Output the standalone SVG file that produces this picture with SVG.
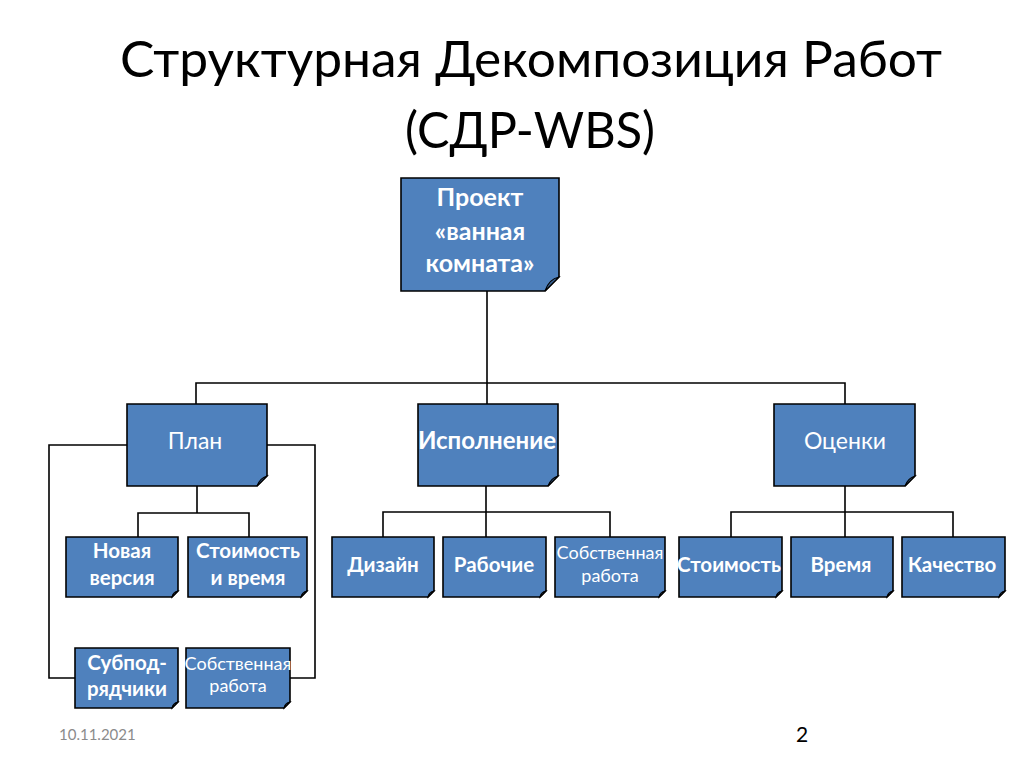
<svg xmlns="http://www.w3.org/2000/svg" width="1024" height="767" viewBox="0 0 1024 767">
<style>
.box{fill:#4F81BD;stroke:#000;stroke-width:1.6;stroke-linejoin:miter}
.fold{fill:#3A6496;stroke:#000;stroke-width:1.2}
.conn{fill:none;stroke:#000;stroke-width:1.6}
.t{font-family:Lato,"Open Sans",sans-serif;fill:#fff;text-anchor:middle}
.b{font-weight:bold}
.s{font-size:20.5px}
.r{font-size:18px}
.title{font-family:Lato,"Open Sans",sans-serif;fill:#000;text-anchor:middle;font-size:50px}
</style>
<rect width="1024" height="767" fill="#fff"/>
<g id="title">
<text class="title" x="531" y="77" textLength="822" lengthAdjust="spacingAndGlyphs">Структурная Декомпозиция Работ</text>
<text class="title" x="530" y="148" textLength="250" lengthAdjust="spacingAndGlyphs">(СДР-WBS)</text>
</g>
<g id="connectors">
<path class="conn" d="M487,291V383M196,404V383H845V404M487,383V404"/>
<path class="conn" d="M197,486V513M138,537V513H249V537"/>
<path class="conn" d="M127,445H49V678H75M267,445H315V678H290"/>
<path class="conn" d="M486,486V537M383,537V512H610V537"/>
<path class="conn" d="M845,486V537M731,537V512H953V537"/>
</g>
<g id="n-project">
<path class="box" d="M401,178H559V277L545,291H401Z"/>
<path class="fold" d="M545,291L559,277Q549,279 545,291Z"/>
<text class="t b" font-size="25" x="480" y="206">Проект</text>
<text class="t b" font-size="25" x="480" y="240">«ванная</text>
<text class="t b" font-size="25" x="480" y="272">комната»</text>
</g>
<g id="n-plan">
<path class="box" d="M127,404H267V476L257,486H127Z"/>
<path class="fold" d="M257,486L267,476Q260,478 257,486Z"/>
<text class="t" font-size="23" x="195" y="449">План</text>
</g>
<g id="n-exec">
<path class="box" d="M418,404H558V476L548,486H418Z"/>
<path class="fold" d="M548,486L558,476Q551,478 548,486Z"/>
<text class="t b" font-size="24" x="487" y="449">Исполнение</text>
</g>
<g id="n-eval">
<path class="box" d="M774,404H915V476L905,486H774Z"/>
<path class="fold" d="M905,486L915,476Q908,478 905,486Z"/>
<text class="t" font-size="23" x="845" y="449">Оценки</text>
</g>
<g id="n-newver">
<path class="box" d="M66,537H178V591L172,597H66Z"/>
<path class="fold" d="M172,597L178,591Q173,592 172,597Z"/>
<text class="t b s" x="122" y="558">Новая</text>
<text class="t b s" x="122" y="585">версия</text>
</g>
<g id="n-costtime">
<path class="box" d="M188,537H307V591L301,597H188Z"/>
<path class="fold" d="M301,597L307,591Q302,592 301,597Z"/>
<text class="t b s" x="248" y="558">Стоимость</text>
<text class="t b s" x="248" y="585">и время</text>
</g>
<g id="n-subcontr">
<path class="box" d="M75,648H178V702L172,708H75Z"/>
<path class="fold" d="M172,708L178,702Q173,703 172,708Z"/>
<text class="t b s" x="127" y="670">Субпод-</text>
<text class="t b s" x="127" y="696">рядчики</text>
</g>
<g id="n-ownwork1">
<path class="box" d="M186,648H290V702L284,708H186Z"/>
<path class="fold" d="M284,708L290,702Q285,703 284,708Z"/>
<text class="t r" x="238" y="670">Собственная</text>
<text class="t r" x="238" y="692">работа</text>
</g>
<g id="n-design">
<path class="box" d="M332,537H434V591L428,597H332Z"/>
<path class="fold" d="M428,597L434,591Q429,592 428,597Z"/>
<text class="t b s" x="383" y="572">Дизайн</text>
</g>
<g id="n-workers">
<path class="box" d="M443,537H546V591L540,597H443Z"/>
<path class="fold" d="M540,597L546,591Q541,592 540,597Z"/>
<text class="t b s" x="494" y="572">Рабочие</text>
</g>
<g id="n-ownwork2">
<path class="box" d="M555,537H665V591L659,597H555Z"/>
<path class="fold" d="M659,597L665,591Q660,592 659,597Z"/>
<text class="t r" x="610" y="559">Собственная</text>
<text class="t r" x="610" y="582">работа</text>
</g>
<g id="n-cost">
<path class="box" d="M679,537H782V591L776,597H679Z"/>
<path class="fold" d="M776,597L782,591Q777,592 776,597Z"/>
<text class="t b s" x="729" y="572">Стоимость</text>
</g>
<g id="n-time">
<path class="box" d="M791,537H893V591L887,597H791Z"/>
<path class="fold" d="M887,597L893,591Q888,592 887,597Z"/>
<text class="t b s" x="841" y="572">Время</text>
</g>
<g id="n-quality">
<path class="box" d="M902,537H1005V591L999,597H902Z"/>
<path class="fold" d="M999,597L1005,591Q1000,592 999,597Z"/>
<text class="t b s" x="952" y="572">Качество</text>
</g>
<g id="footer">
<text x="59" y="740" font-family="Lato,'Open Sans',sans-serif" font-size="15" fill="#8B8B8B">10.11.2021</text>
<text x="802" y="742" font-family="Lato,'Open Sans',sans-serif" font-size="21" fill="#000" text-anchor="middle">2</text>
</g>
</svg>
